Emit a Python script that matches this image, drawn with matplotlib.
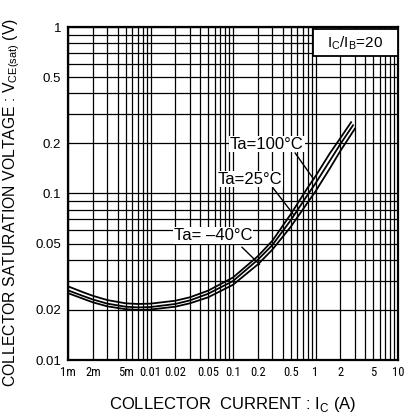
import matplotlib
matplotlib.use("Agg")
import matplotlib.pyplot as plt
from matplotlib.patches import Rectangle
from matplotlib.ticker import FixedLocator, FixedFormatter, LogLocator, NullFormatter
from matplotlib import font_manager

plt.rcParams['font.family'] = ['Liberation Sans', 'DejaVu Sans']
plt.rcParams['mathtext.fontset'] = 'custom'
plt.rcParams['mathtext.rm'] = 'Liberation Sans'

# Data (Ic in A, Vce(sat) in V)
ic_100 = [0.001, 0.0015, 0.002, 0.003, 0.005, 0.007, 0.01, 0.02, 0.03, 0.05,
          0.1, 0.2, 0.3, 0.5, 0.8, 1.0, 1.5, 2.0, 2.7]
v_100 = [0.0277, 0.0256, 0.0243, 0.0229, 0.0219, 0.0217, 0.0218, 0.0227, 0.0238, 0.0261,
         0.0313, 0.0420, 0.0520, 0.0750, 0.108, 0.127, 0.175, 0.215, 0.268]

ic_25 = [0.001, 0.0015, 0.002, 0.003, 0.005, 0.007, 0.01, 0.02, 0.03, 0.05,
         0.1, 0.2, 0.3, 0.5, 0.8, 1.0, 1.5, 2.0, 2.85]
v_25 = [0.0262, 0.0243, 0.0231, 0.0218, 0.0209, 0.0207, 0.0208, 0.0217, 0.0228, 0.0250,
        0.0298, 0.0400, 0.0490, 0.0690, 0.098, 0.115, 0.158, 0.198, 0.257]

ic_m40 = [0.001, 0.0015, 0.002, 0.003, 0.005, 0.007, 0.01, 0.02, 0.03, 0.05,
          0.1, 0.2, 0.3, 0.5, 0.8, 1.0, 1.5, 2.0, 3.0]
v_m40 = [0.0252, 0.0234, 0.0222, 0.0210, 0.0202, 0.0200, 0.0201, 0.0209, 0.0219, 0.0238,
         0.0283, 0.0375, 0.0460, 0.0630, 0.088, 0.103, 0.142, 0.180, 0.245]

x_ticks = [0.001, 0.002, 0.005, 0.01, 0.02, 0.05, 0.1, 0.2, 0.5, 1, 2, 5, 10]
x_labels = ['1m', '2m', '5m', '0.01', '0.02', '0.05', '0.1', '0.2', '0.5', '1', '2', '5', '10']
y_ticks = [0.01, 0.02, 0.05, 0.1, 0.2, 0.5, 1]
y_labels = ['0.01', '0.02', '0.05', '0.1', '0.2', '0.5', '1']

labels = ['Ta=100°C', 'Ta=25°C', 'Ta= \u201340°C']
label_pts = [(0.95, 0.122), (0.55, 0.074), (0.21, 0.0375)]

# pick a condensed family for x tick labels if one is installed
installed = {f.name for f in font_manager.fontManager.ttflist}
narrow = [f for f in ['Liberation Sans Narrow', 'DejaVu Sans Condensed', 'Roboto Condensed']
          if f in installed]
xtick_family = narrow[0] if narrow else 'Liberation Sans'
xtick_size = 9 if narrow else 8

fig = plt.figure(figsize=(4.11, 4.19), dpi=100)
ax = fig.add_axes([68/411, 1-360/419, 330/411, 333/419])
ax.set_xscale('log')
ax.set_yscale('log')
ax.set_xlim(0.001, 10)
ax.set_ylim(0.01, 1)

ax.xaxis.set_major_locator(FixedLocator(x_ticks))
ax.xaxis.set_major_formatter(FixedFormatter(x_labels))
ax.xaxis.set_minor_locator(LogLocator(base=10, subs=range(1, 10), numticks=100))
ax.xaxis.set_minor_formatter(NullFormatter())
ax.yaxis.set_major_locator(FixedLocator(y_ticks))
ax.yaxis.set_major_formatter(FixedFormatter(y_labels))
ax.yaxis.set_minor_locator(LogLocator(base=10, subs=range(1, 10), numticks=100))
ax.yaxis.set_minor_formatter(NullFormatter())

ax.grid(True, which='both', color='black', lw=0.9)
ax.set_axisbelow(True)
ax.tick_params(which='both', length=0)
ax.tick_params(axis='y', pad=5, labelsize=9.5)
ax.tick_params(axis='x', pad=4, labelsize=xtick_size)
for lab in ax.get_xticklabels():
    lab.set_family(xtick_family)
for s in ax.spines.values():
    s.set_linewidth(1.6)

for ic, v in [(ic_100, v_100), (ic_25, v_25), (ic_m40, v_m40)]:
    ax.plot(ic, v, color='black', lw=1.3, zorder=3)

text_pos = [(0.603, 0.648), (0.552, 0.543), (0.439, 0.374)]
line_start = [(0.688, 0.622), (0.621, 0.517), (0.527, 0.339)]
for lab, pt, tp, ls in zip(labels, label_pts, text_pos, line_start):
    ax.annotate('', xy=pt, xycoords='data', xytext=ls, textcoords='axes fraction',
                arrowprops=dict(arrowstyle='-', color='black', lw=1.0,
                                shrinkA=0, shrinkB=0), zorder=4)
    ax.text(tp[0], tp[1], lab, transform=ax.transAxes, ha='center', va='center',
            fontsize=12, zorder=5,
            bbox=dict(facecolor='white', edgecolor='none', pad=0.5))

ax.add_patch(Rectangle((0.742, 0.912), 0.258, 0.083, transform=ax.transAxes,
                       facecolor='white', edgecolor='black', lw=1.3, zorder=6,
                       clip_on=False))
ax.text(0.871, 0.953, r'I$_{\mathrm{C}}$/I$_{\mathrm{B}}$=20', transform=ax.transAxes,
        ha='center', va='center', fontsize=11, zorder=7)

ax.set_xlabel(r'COLLECTOR  CURRENT : I$_{\mathrm{C}}$ (A)', fontsize=12)
ax.set_ylabel(r'COLLECTOR SATURATION VOLTAGE : V$_{\mathrm{CE(sat)}}$ (V)', fontsize=11.3)
ax.yaxis.set_label_coords(-(68-22)/330, (360-203)/333)
ax.xaxis.set_label_coords(0.5, -(395-360)/333)

fig.savefig('out.png', dpi=100, facecolor='white')
